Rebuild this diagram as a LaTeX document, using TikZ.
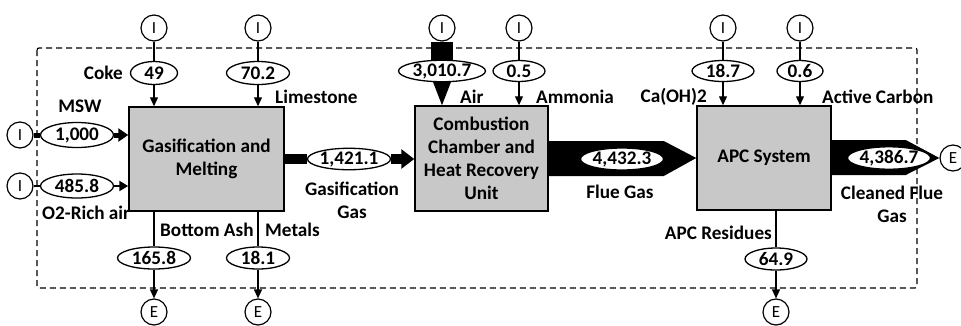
\documentclass[tikz,border=0pt]{standalone}
\usepackage{fontspec}
\setmainfont{Carlito}
\usetikzlibrary{shapes.geometric,arrows.meta,backgrounds,calc}
\definecolor{boxgray}{RGB}{200,200,200}
\begin{document}
\begin{tikzpicture}[x=1pt,y=-1pt,
  every node/.style={font=\bfseries\fontsize{19.2}{23}\selectfont, inner sep=0pt},
  procbox/.style={draw, line width=1.5pt, fill=boxgray, align=center},
  valell/.style={draw, ellipse, line width=1.3pt, fill=white, minimum height=22pt},
  term/.style={draw, circle, line width=1.2pt, fill=white, minimum size=26pt, font=\fontsize{17}{17}\selectfont},
  thinline/.style={line width=1.3pt},
  thinarr/.style={line width=1.3pt, -{Triangle[length=9pt,width=8pt]}},
  boundary/.style={line width=1.2pt, dash pattern=on 6pt off 4pt, rounded corners=2pt},
]
\useasboundingbox (0,0) rectangle (961,325);

% process boxes
\node[procbox, minimum width=155pt, minimum height=104pt] (b1) at (206.5,159) {Gasification and\\Melting};
\node[procbox, minimum width=133pt, minimum height=105pt] (b2) at (481.5,158.5) {Combustion\\Chamber and\\Heat Recovery\\Unit};
\node[procbox, minimum width=134pt, minimum height=104pt] (b3) at (764,158) {APC System};

% terminals
\node[term] (iCoke) at (154,28) {I};
\node[term] (iLime) at (258,28) {I};
\node[term] (iMSW) at (20,135) {I};
\node[term] (iO2) at (20,186) {I};
\node[term] (iAir) at (442,28) {I};
\node[term] (iAmm) at (519,28) {I};
\node[term] (iCa) at (723,28) {I};
\node[term] (iAC) at (800,28) {I};
\node[term] (oAsh) at (154,312) {E};
\node[term] (oMet) at (258,312) {E};
\node[term] (oAPC) at (776,312) {E};
\node[term] (oClean) at (953,158) {E};

% value ellipses
\node[valell, minimum width=47pt, minimum height=23pt] (e49) at (154,73) {49};
\node[valell, minimum width=63pt, minimum height=23pt] (e702) at (258,73) {70.2};
\node[valell, minimum width=73pt, minimum height=25pt] (e1000) at (77,135) {1,000};
\node[valell, minimum width=73pt, minimum height=24pt] (e4858) at (77,186) {485.8};
\node[valell, minimum width=73pt] (e1658) at (154,258) {165.8};
\node[valell, minimum width=63pt] (e181) at (258,258) {18.1};
\node[valell, minimum width=83pt, minimum height=21pt] (e1421) at (349,159) {1,421.1};
\node[valell, minimum width=87pt, minimum height=21pt] (eAir) at (442,71) {3,010.7};
\node[valell, minimum width=52pt, minimum height=21pt] (e05) at (519,71) {0.5};
\node[valell, minimum width=80pt] (e4432) at (622,159) {4,432.3};
\node[valell, minimum width=62pt, minimum height=21pt] (e187) at (723,71) {18.7};
\node[valell, minimum width=46pt, minimum height=21pt] (e06) at (800,71) {0.6};
\node[valell, minimum width=66pt] (e43867) at (889,158) {4,386.7};
\node[valell, minimum width=62pt] (e649) at (776,259) {64.9};

% labels
\node[anchor=east] (lCoke) at (123,73) {Coke};
\node[anchor=west] (lLime) at (275,97) {Limestone};
\node (lMSW) at (80,106) {MSW};
\node[anchor=west] (lO2) at (42,213) {O2-Rich air};
\node[anchor=west] (lAsh) at (160,230) {Bottom Ash};
\node[anchor=west] (lMet) at (265,230) {Metals};
\node[align=center] (lGas) at (352,200) {Gasification\\Gas};
\node[anchor=west] (lAir) at (460,97) {Air};
\node[anchor=west] (lAmm) at (536,97) {Ammonia};
\node (lFlue) at (620,192) {Flue Gas};
\node[anchor=east] (lCa) at (707,97) {Ca(OH)2};
\node[anchor=west] (lAC) at (822,97) {Active Carbon};
\node[align=center] (lClean) at (892,204) {Cleaned Flue\\Gas};
\node[anchor=east] (lAPC) at (772,233) {APC Residues};

\begin{scope}[on background layer]
  \draw[boundary] (37,48) rectangle (917,288);
  % gasification inputs
  \draw[thinline] (iCoke) -- (e49);
  \draw[thinarr] (e49) -- (e49 |- b1.north);
  \draw[thinline] (iLime) -- (e702);
  \draw[thinarr] (e702) -- (e702 |- b1.north);
  \draw[line width=5pt] (iMSW) -- (e1000);
  \draw[line width=5pt, -{Triangle[length=10pt,width=13pt]}] (e1000.east) -- (e1000.east -| b1.west);
  \draw[thinline] (iO2) -- (e4858);
  \draw[line width=2.5pt, -{Triangle[length=9pt,width=10pt]}] (e4858.east) -- (e4858.east -| b1.west);
  % gasification outputs
  \draw[thinline] (b1.south -| e1658) -- (e1658);
  \draw[thinarr] (e1658) -- (oAsh);
  \draw[thinline] (b1.south -| e181) -- (e181);
  \draw[thinarr] (e181) -- (oMet);
  \draw[line width=10pt] (b1.east |- e1421) -- (e1421);
  \draw[line width=10pt, -{Triangle[length=13pt,width=19pt]}] (e1421.east) -- (e1421.east -| b2.west);
  % combustion inputs
  \fill ($(iAir.south)+(-11,0)$) rectangle ($(eAir.center)+(11,0)$);
  \fill ($(eAir.south)+(-10,-3)$) -- ($(eAir.south)+(10,-3)$) -- (eAir |- b2.north) -- cycle;
  \draw[thinline] (iAmm) -- (e05);
  \draw[thinarr] (e05) -- (e05 |- b2.north);
  % flue gas
  \fill ($(b2.east)+(0,-17.5)$) -- ($(b2.east)+(115,-17.5)$) -- (b3.west) -- ($(b2.east)+(115,17.5)$) -- ($(b2.east)+(0,17.5)$) -- cycle;
  % APC inputs
  \draw[thinline] (iCa) -- (e187);
  \draw[thinarr] (e187) -- (e187 |- b3.north);
  \draw[thinline] (iAC) -- (e06);
  \draw[thinarr] (e06) -- (e06 |- b3.north);
  % APC outputs
  \draw[thinline] (b3.south -| e649) -- (e649);
  \draw[thinarr] (e649) -- (oAPC);
  \fill ($(b3.east)+(0,-18)$) -- ($(b3.east)+(74,-18)$) -- (oClean.west) -- ($(b3.east)+(74,17)$) -- ($(b3.east)+(0,17)$) -- cycle;
\end{scope}
\end{tikzpicture}
\end{document}
